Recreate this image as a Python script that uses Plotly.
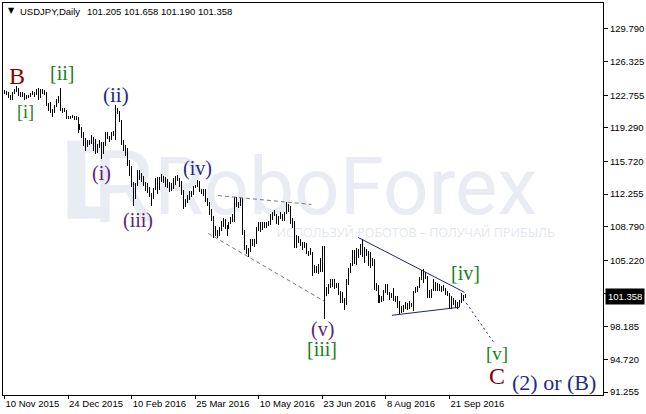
import pandas as pd
import plotly.graph_objects as go

# ---------------- data ----------------
symbol = "USDJPY,Daily"
header_prices = ["101.205", "101.658", "101.190", "101.358"]
last_price = 101.358

holidays = ["2015-12-25", "2016-01-01"]
dates = [d for d in pd.bdate_range("2015-11-10", "2016-10-03")
         if d.strftime("%Y-%m-%d") not in holidays]

open_ = [
    # Nov 2015
    123.15, 123.18, 122.91, 122.62, 122.30, 123.00, 123.40, 123.45, 122.85, 122.80, 122.90, 122.55, 122.60, 122.65, 122.85,
    # Dec 2015
    123.10, 122.85, 123.25, 122.60, 123.15, 123.30, 122.85, 121.75, 121.55, 120.95, 120.95, 121.65, 122.25, 122.60, 121.20, 121.10, 121.15, 120.30, 120.35, 120.40, 120.50, 120.25,
    # Jan 2016
    120.20, 119.40, 119.25, 118.50, 117.70, 117.25, 117.70, 117.70, 118.10, 117.90, 117.00, 117.35, 117.65, 117.10, 117.45, 118.75, 118.35, 118.20, 118.75, 118.65,
    # Feb
    121.10, 121.00, 119.95, 117.90, 116.85, 116.80, 115.60, 115.00, 113.30, 112.30, 113.20, 114.60, 114.00, 114.10, 113.25, 112.60, 112.90, 111.95, 112.10, 112.95, 113.95,
    # Mar
    112.70, 113.95, 114.10, 113.65, 113.80, 113.40, 112.65, 113.35, 113.25, 113.80, 113.85, 113.15, 112.50, 111.50, 111.55, 111.90, 112.35, 112.40, 113.05, 113.10, 113.45, 112.55, 112.45,
    # Apr
    112.55, 111.65, 111.30, 110.30, 109.80, 108.10, 108.05, 108.00, 108.60, 109.30, 109.40, 108.75, 108.80, 109.20, 109.80, 109.45, 111.75, 111.15, 111.30, 111.40, 108.15,
    # May
    106.35, 106.05, 106.20, 107.05, 107.20, 107.10, 108.40, 109.20, 108.45, 109.05, 108.65, 109.05, 109.05, 110.05, 109.95, 110.15, 109.15, 109.85, 110.20, 109.75, 110.25, 111.25,
    # Jun
    110.70, 109.50, 108.95, 106.55, 107.60, 107.35, 106.95, 107.00, 106.95, 106.05, 106.05, 106.10, 104.25, 104.15, 104.05, 104.80, 104.50, 106.25, 102.25, 102.00, 102.65, 102.80,
    # Jul
    103.25, 102.50, 102.50, 101.95, 101.30, 100.75, 100.55, 102.75, 104.25, 104.75, 105.65, 104.85, 106.15, 106.20, 106.85, 105.85, 106.15, 106.20, 104.80, 105.35, 105.30,
    # Aug
    102.05, 102.40, 100.75, 101.30, 101.25, 101.85, 102.50, 101.80, 101.25, 101.65, 101.25, 101.25, 100.30, 100.25, 99.90, 100.20, 100.70, 100.30, 100.45, 100.55, 101.80, 102.00, 102.30,
    # Sep + Oct 3
    103.40, 103.30, 103.95, 103.45, 101.75, 101.75, 102.00, 102.60, 102.70, 102.70, 102.20, 102.30, 102.25, 101.75, 101.70, 100.30, 100.75, 101.00, 100.30, 100.45, 100.70, 101.20,
    101.205,
]
high = [
    123.30, 123.20, 123.05, 122.82, 123.05, 123.45, 123.75, 123.50, 123.05, 123.05, 123.00, 122.75, 122.80, 122.95, 123.20,
    123.15, 123.40, 123.55, 123.40, 123.45, 123.35, 123.15, 121.95, 122.00, 121.25, 121.75, 122.35, 122.65, 123.57, 121.35, 121.35, 121.20, 120.60, 120.55, 120.70, 120.60, 120.60,
    120.40, 119.70, 119.35, 118.80, 118.25, 118.00, 118.00, 118.50, 118.30, 118.15, 117.60, 118.00, 117.75, 117.75, 118.85, 118.85, 118.45, 118.90, 118.95, 121.69,
    121.45, 121.05, 120.10, 118.00, 117.50, 117.20, 115.85, 115.25, 113.55, 113.40, 114.85, 114.85, 114.50, 114.20, 113.50, 113.40, 113.00, 112.40, 112.95, 114.00, 114.05,
    114.10, 114.35, 114.20, 114.10, 113.90, 113.55, 113.40, 114.00, 114.15, 114.30, 114.00, 113.70, 112.70, 111.75, 112.15, 112.60, 112.55, 113.15, 113.20, 113.80, 113.70, 112.85, 112.75,
    112.85, 111.85, 111.40, 110.65, 109.90, 108.90, 108.45, 108.75, 109.40, 109.75, 109.60, 109.00, 109.30, 109.85, 110.15, 111.90, 111.90, 111.45, 111.85, 111.85, 108.50,
    106.90, 106.50, 107.50, 107.50, 107.45, 108.75, 109.35, 109.25, 109.25, 109.35, 109.30, 109.40, 110.10, 110.35, 110.60, 110.20, 109.95, 110.35, 110.20, 110.35, 111.45, 111.25,
    110.95, 109.70, 109.40, 107.90, 107.85, 107.45, 107.20, 107.20, 107.05, 106.20, 106.50, 106.10, 104.75, 104.60, 104.85, 105.50, 106.80, 106.80, 102.45, 102.75, 103.25, 103.30,
    103.30, 102.85, 102.80, 101.95, 101.85, 101.20, 103.25, 104.40, 105.00, 106.30, 106.30, 106.50, 106.45, 106.95, 107.50, 106.65, 106.40, 106.25, 106.10, 105.45, 105.40,
    102.80, 102.60, 101.55, 101.40, 102.05, 102.70, 102.70, 101.85, 101.80, 102.30, 101.45, 101.40, 100.90, 100.35, 100.45, 100.85, 100.75, 100.90, 100.70, 102.00, 102.35, 102.50, 103.50,
    104.20, 104.30, 104.00, 103.60, 102.05, 102.15, 103.30, 102.90, 102.80, 102.75, 102.50, 102.65, 102.25, 101.95, 101.80, 101.40, 101.20, 101.05, 100.80, 101.00, 101.75, 101.55,
    101.658,
]
low = [
    122.84, 122.75, 122.50, 122.25, 122.20, 122.90, 123.15, 122.65, 122.60, 122.60, 122.30, 122.40, 122.50, 122.60, 122.80,
    122.60, 122.75, 122.30, 122.50, 122.90, 122.80, 121.65, 121.05, 120.85, 120.40, 120.85, 121.50, 121.95, 121.05, 120.85, 120.95, 120.25, 120.20, 120.20, 120.30, 120.15, 120.15,
    118.70, 119.05, 118.25, 117.35, 116.85, 117.25, 117.45, 117.55, 116.80, 116.50, 116.60, 117.15, 115.97, 116.50, 117.40, 118.15, 117.75, 118.00, 118.45, 118.00,
    120.80, 119.90, 117.50, 116.80, 116.35, 115.20, 114.20, 113.05, 110.98, 111.70, 113.10, 113.75, 113.50, 113.10, 112.55, 112.40, 111.95, 111.05, 111.75, 112.70, 112.30,
    112.65, 113.50, 113.45, 113.00, 112.90, 112.45, 112.55, 112.75, 113.20, 113.65, 113.00, 112.20, 110.67, 110.90, 111.30, 111.60, 111.90, 112.20, 112.90, 113.00, 112.50, 112.25, 112.05,
    111.40, 111.05, 110.05, 109.40, 107.65, 107.80, 107.63, 107.80, 108.30, 108.80, 108.55, 107.85, 108.60, 109.05, 109.30, 109.25, 110.85, 110.75, 111.00, 107.90, 106.30,
    105.95, 105.55, 106.15, 106.75, 106.60, 107.00, 108.30, 108.20, 108.40, 108.65, 108.65, 108.90, 108.95, 109.55, 109.90, 109.10, 109.00, 109.65, 109.45, 109.40, 110.20, 110.35,
    109.05, 108.70, 106.50, 106.50, 107.05, 106.70, 106.30, 106.50, 105.85, 105.65, 105.80, 103.55, 103.90, 103.85, 103.80, 104.00, 104.00, 99.00, 101.45, 101.70, 102.30, 102.35,
    102.20, 102.25, 101.60, 100.65, 100.70, 99.95, 100.50, 102.65, 103.90, 104.65, 104.80, 104.75, 105.50, 105.75, 105.60, 104.95, 105.65, 104.60, 104.45, 104.65, 102.05,
    101.95, 100.70, 100.65, 100.80, 100.95, 101.75, 101.60, 101.00, 101.20, 100.95, 100.80, 100.20, 99.55, 99.65, 99.80, 100.05, 99.95, 100.10, 100.30, 99.85, 101.75, 101.85, 102.25,
    103.10, 102.80, 103.25, 101.20, 101.25, 101.20, 101.95, 101.95, 101.95, 101.95, 101.85, 101.95, 101.60, 101.40, 100.10, 100.10, 100.45, 100.20, 100.10, 100.25, 100.65, 100.90,
    101.190,
]
close = [
    123.18, 122.91, 122.62, 122.60, 123.00, 123.40, 123.45, 122.85, 122.80, 122.90, 122.55, 122.60, 122.65, 122.85, 123.10,
    122.85, 123.25, 122.60, 123.15, 123.30, 122.85, 121.75, 121.55, 120.95, 120.95, 121.65, 122.25, 122.60, 121.20, 121.10, 121.15, 120.30, 120.35, 120.40, 120.50, 120.25, 120.20,
    119.40, 119.25, 118.50, 117.70, 117.25, 117.70, 117.70, 118.10, 117.90, 117.00, 117.35, 117.65, 117.10, 117.45, 118.75, 118.35, 118.20, 118.75, 118.65, 121.10,
    121.00, 119.95, 117.90, 116.85, 116.80, 115.60, 115.00, 113.30, 112.30, 113.20, 114.60, 114.00, 114.10, 113.25, 112.60, 112.90, 111.95, 112.10, 112.95, 113.95, 112.70,
    113.95, 114.10, 113.65, 113.80, 113.40, 112.65, 113.35, 113.25, 113.80, 113.85, 113.15, 112.50, 111.50, 111.55, 111.90, 112.35, 112.40, 113.05, 113.10, 113.45, 112.55, 112.45, 112.55,
    111.65, 111.30, 110.30, 109.80, 108.10, 108.05, 108.00, 108.60, 109.30, 109.40, 108.75, 108.80, 109.20, 109.80, 109.45, 111.75, 111.15, 111.30, 111.40, 108.15, 106.35,
    106.05, 106.20, 107.05, 107.20, 107.10, 108.40, 109.20, 108.45, 109.05, 108.65, 109.05, 109.05, 110.05, 109.95, 110.15, 109.15, 109.85, 110.20, 109.75, 110.25, 111.25, 110.70,
    109.50, 108.95, 106.55, 107.60, 107.35, 106.95, 107.00, 106.95, 106.05, 106.05, 106.10, 104.25, 104.15, 104.05, 104.80, 104.50, 106.25, 102.25, 102.00, 102.65, 102.80, 103.25,
    102.50, 102.50, 101.95, 101.30, 100.75, 100.55, 102.75, 104.25, 104.75, 105.65, 104.85, 106.15, 106.20, 106.85, 105.85, 106.15, 106.20, 104.80, 105.35, 105.30, 102.05,
    102.40, 100.75, 101.30, 101.25, 101.85, 102.50, 101.80, 101.25, 101.65, 101.25, 101.25, 100.30, 100.25, 99.90, 100.20, 100.70, 100.30, 100.45, 100.55, 101.80, 102.00, 102.30, 103.40,
    103.30, 103.95, 103.45, 101.75, 101.75, 102.00, 102.60, 102.70, 102.70, 102.20, 102.30, 102.25, 101.75, 101.70, 100.30, 100.75, 101.00, 100.30, 100.45, 100.70, 101.20, 101.35,
    101.358,
]

date_tick_labels = ["10 Nov 2015", "24 Dec 2015", "10 Feb 2016", "25 Mar 2016",
                    "10 May 2016", "23 Jun 2016", "8 Aug 2016", "21 Sep 2016"]
price_ticks = [129.790, 126.325, 122.755, 119.290, 115.720, 112.255,
               108.790, 105.220, 101.755, 98.185, 94.720, 91.255]

# Elliott wave labels: (text, bar position, price)
wave_text = ["B", "[i]", "[ii]", "(i)", "(ii)", "(iii)", "(iv)", "(v)", "[iii]", "[iv]", "[v]", "C", "(2) or (B)"]
wave_bar = [6.5, 10.75, 29, 49, 56, 67, 97, 160, 160, 232, 248, 248, 276.5]
wave_price = [124.81, 121.00, 125.13, 114.44, 122.80, 109.46, 114.97, 97.92, 95.80, 103.85, 95.38, 92.95, 92.31]

# trend lines: (bar positions, prices)
upper_dash_bar, upper_dash_price = [107.5, 154.5], [112.11, 111.16]
lower_dash_bar, lower_dash_price = [102.5, 161.0], [108.09, 100.89]
tri_top_bar, tri_top_price = [178.0, 231.5], [107.66, 101.84]
tri_bot_bar, tri_bot_price = [195.0, 229.0], [99.40, 100.25]
proj_bar, proj_price = [232.5, 246.5], [100.68, 96.44]

assert len(dates) == len(open_) == len(high) == len(low) == len(close), (
    len(dates), len(open_), len(high), len(low), len(close))

# ---------------- figure ----------------
bar_x = list(range(len(dates)))
date_index = {d.strftime("%Y-%m-%d"): i for i, d in enumerate(dates)}
tick_pos = [date_index[pd.to_datetime(t, format="%d %b %Y").strftime("%Y-%m-%d")]
            for t in date_tick_labels]

W, H = 646, 414
ML, MR, MT, MB = 2, 40, 2, 19
PW, PH = W - ML - MR, H - MT - MB


def px(xp):
    return (xp - ML) / PW


def py(yp):
    return (H - MB - yp) / PH


fig = go.Figure()
fig.add_trace(go.Ohlc(
    x=bar_x, open=open_, high=high, low=low, close=close,
    increasing=dict(line=dict(color="black", width=1)),
    decreasing=dict(line=dict(color="black", width=1)),
    tickwidth=0, hoverinfo="skip", showlegend=False))

grey = "#7a7a7a"
navy = "#202080"
for bx, bp, col, dash in [
    (upper_dash_bar, upper_dash_price, grey, "4px,3px"),
    (lower_dash_bar, lower_dash_price, grey, "4px,3px"),
    (tri_top_bar, tri_top_price, navy, "solid"),
    (tri_bot_bar, tri_bot_price, navy, "solid"),
    (proj_bar, proj_price, navy, "2px,3px"),
]:
    fig.add_trace(go.Scatter(x=bx, y=bp, mode="lines", hoverinfo="skip",
                             line=dict(color=col, width=1, dash=dash), showlegend=False))

red = "#8b0000"
green = "#1a7f1a"
blue = "#1d2b8c"
purple = "#5b2470"
style = {
    "B": (red, 24), "C": (red, 24),
    "[i]": (green, 18), "[ii]": (green, 20), "[iii]": (green, 20), "[iv]": (green, 20), "[v]": (green, 19),
    "(i)": (purple, 20), "(iii)": (purple, 20), "(v)": (purple, 20),
    "(ii)": (blue, 21), "(iv)": (blue, 20), "(2) or (B)": (blue, 22),
}
annotations = []
for t, bx, bp in zip(wave_text, wave_bar, wave_price):
    col, size = style[t]
    annotations.append(dict(x=bx, y=bp, xref="x", yref="y", text=t, showarrow=False,
                            xanchor="center", yanchor="middle",
                            font=dict(family="Liberation Serif", size=size, color=col)))

# header
annotations.append(dict(x=px(5), y=py(10), xref="paper", yref="paper", text="▼", showarrow=False,
                        xanchor="left", yanchor="middle",
                        font=dict(family="DejaVu Sans", size=8, color="black")))
annotations.append(dict(x=px(17), y=py(11), xref="paper", yref="paper", text=symbol, showarrow=False,
                        xanchor="left", yanchor="middle",
                        font=dict(family="Liberation Sans", size=9.5, color="black")))
annotations.append(dict(x=px(85), y=py(11), xref="paper", yref="paper", text=" ".join(header_prices),
                        showarrow=False, xanchor="left", yanchor="middle",
                        font=dict(family="Liberation Sans", size=9.5, color="black")))
# current price box
annotations.append(dict(x=1, y=last_price, xref="paper", yref="y", text=f"{last_price:.3f}",
                        showarrow=False, xanchor="left", yanchor="middle", xshift=2,
                        bgcolor="black", borderpad=2,
                        font=dict(family="Liberation Sans", size=9.5, color="white")))

# watermark (drawn below the bars)
wm = "#e9ecf2"
shapes = [
    dict(type="rect", xref="paper", yref="paper", x0=px(67), x1=px(85), y0=py(218), y1=py(140),
         fillcolor=wm, line=dict(width=0), layer="below"),
    dict(type="rect", xref="paper", yref="paper", x0=px(67), x1=px(104), y0=py(152), y1=py(140),
         fillcolor=wm, line=dict(width=0), layer="below"),
    dict(type="rect", xref="paper", yref="paper", x0=px(67), x1=px(104), y0=py(218), y1=py(206),
         fillcolor=wm, line=dict(width=0), layer="below"),
    dict(type="rect", xref="paper", yref="paper", x0=px(95), x1=px(150), y0=py(225), y1=py(135),
         fillcolor="rgba(0,0,0,0)", line=dict(width=0), layer="below",
         label=dict(text="R", textposition="middle center",
                    font=dict(family="Roboto", size=100, color=wm))),
    dict(type="rect", xref="paper", yref="paper", x0=px(152), x1=px(542), y0=py(226), y1=py(135),
         fillcolor="rgba(0,0,0,0)", line=dict(width=0), layer="below",
         label=dict(text="RoboForex", textposition="middle center",
                    font=dict(family="Roboto", size=80, color=wm))),
    dict(type="rect", xref="paper", yref="paper", x0=px(285), x1=px(550), y0=py(240), y1=py(225),
         fillcolor="rgba(0,0,0,0)", line=dict(width=0), layer="below",
         label=dict(text="ИСПОЛЬЗУЙ РОБОТОВ – ПОЛУЧАЙ ПРИБЫЛЬ", textposition="middle center",
                    font=dict(family="Open Sans", size=12.5, color="#e4e7ee"))),
]

ylo = price_ticks[-1] - 3 / 9.446
yhi = price_ticks[0] + 26 / 9.446

fig.update_layout(
    width=W, height=H,
    margin=dict(l=ML, r=MR, t=MT, b=MB, pad=0),
    paper_bgcolor="white", plot_bgcolor="white",
    showlegend=False, hovermode=False,
    font=dict(family="Liberation Sans", size=9.5, color="black"),
    annotations=annotations, shapes=shapes,
    xaxis=dict(range=[-0.75, (PW / 2) - 0.75], tickmode="array", tickvals=tick_pos,
               ticktext=date_tick_labels, ticks="outside", ticklen=3, tickcolor="black",
               ticklabelposition="outside right",
               showgrid=False, zeroline=False, showline=True, linecolor="black",
               linewidth=1, mirror=True, rangeslider=dict(visible=False), fixedrange=True,
               tickfont=dict(family="Liberation Sans", size=9.5, color="black")),
    yaxis=dict(range=[ylo, yhi], side="right", tickmode="array", tickvals=price_ticks,
               ticktext=[f"{v:.3f}" for v in price_ticks], ticks="outside", ticklen=4,
               tickcolor="black", showgrid=False, zeroline=False, showline=True,
               linecolor="black", linewidth=1, mirror=True, fixedrange=True,
               tickfont=dict(family="Liberation Sans", size=9.5, color="black")),
)

page_fix = (
    "document.body.style.margin='0';"
    "document.querySelectorAll('.ohlclayer path').forEach(function(p){"
    "p.style.shapeRendering='crispEdges';});"
)
fig.write_html("out.html", config={"displayModeBar": False, "staticPlot": True},
               post_script=page_fix)
